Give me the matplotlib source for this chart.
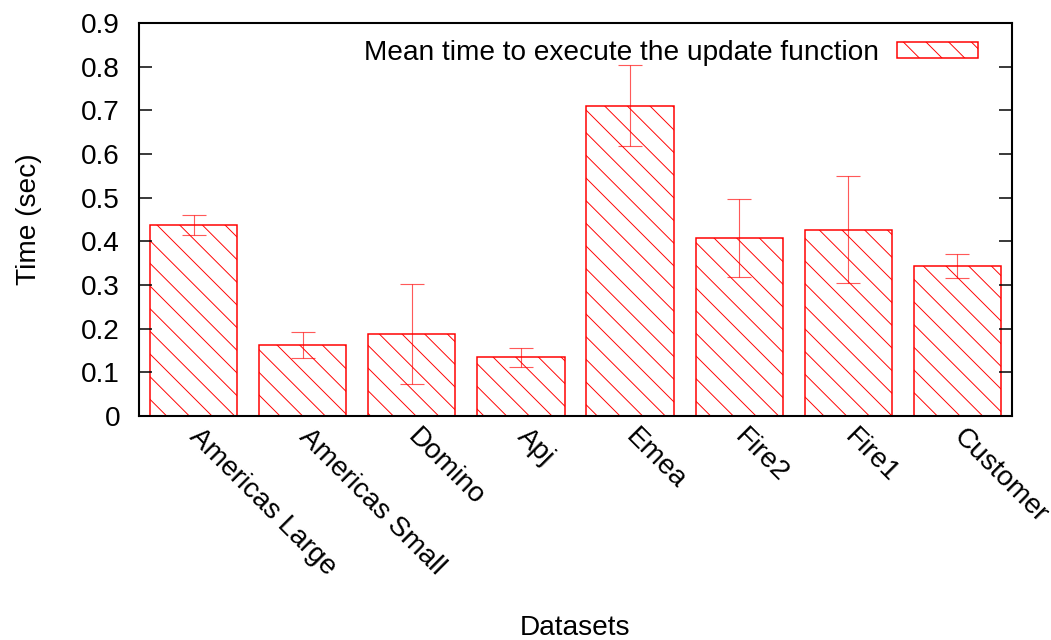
import matplotlib
matplotlib.use('Agg')
import matplotlib.pyplot as plt
import numpy as np

# mean update time per dataset and its spread
datasets = ['Americas Large', 'Americas Small', 'Domino', 'Apj',
            'Emea', 'Fire2', 'Fire1', 'Customer']
mean_time = [0.438, 0.162, 0.188, 0.134, 0.711, 0.408, 0.427, 0.344]
time_err = [0.023, 0.030, 0.115, 0.021, 0.092, 0.090, 0.123, 0.028]

y_ticks = [0, 0.1, 0.2, 0.3, 0.4, 0.5, 0.6, 0.7, 0.8, 0.9]
y_tick_labels = ['0', '0.1', '0.2', '0.3', '0.4', '0.5', '0.6', '0.7', '0.8', '0.9']

plt.rcParams['font.family'] = ['Liberation Sans', 'DejaVu Sans']
plt.rcParams['font.size'] = 14.8
plt.rcParams['hatch.linewidth'] = 0.5

DPI = 136
fig = plt.figure(figsize=(1051 / DPI, 640 / DPI), dpi=DPI)
ax = fig.add_axes([139 / 1051, 1 - 416 / 640, 873 / 1051, 393 / 640])

x = np.arange(len(datasets))
ax.bar(x, mean_time, width=0.8, facecolor='white', edgecolor='red',
       linewidth=0.8, hatch='\\\\', label='Mean time to execute the update function')
ax.errorbar(x, mean_time, yerr=time_err, fmt='none', ecolor='red', alpha=0.65,
            elinewidth=0.6, capsize=6.3, capthick=0.6)

ax.set_xlim(-0.5, len(datasets) - 0.5)
ax.set_ylim(0, 0.9)
ax.set_yticks(y_ticks)
ax.set_yticklabels(y_tick_labels)
ax.set_xticks(x)
ax.set_xticklabels(datasets, rotation=-45, ha='left', va='center',
                   rotation_mode='anchor')

ax.tick_params(axis='y', direction='in', length=6.9, width=0.8, pad=10,
               right=True)
ax.tick_params(axis='x', length=0, pad=9)
for sp in ax.spines.values():
    sp.set_linewidth(1.1)

ax.set_ylabel('Time (sec)', va='center')
ax.yaxis.set_label_coords(-0.126, 0.5)
ax.set_xlabel('Datasets', va='center')
ax.xaxis.set_label_coords(0.5, -0.54)

ax.legend(loc='center right', bbox_to_anchor=(0.961, 0.924), frameon=False,
          markerfirst=False, borderpad=0, borderaxespad=0,
          handlelength=2.9, handleheight=0.5, handletextpad=0.65)

fig.savefig('out.png', dpi=DPI)
